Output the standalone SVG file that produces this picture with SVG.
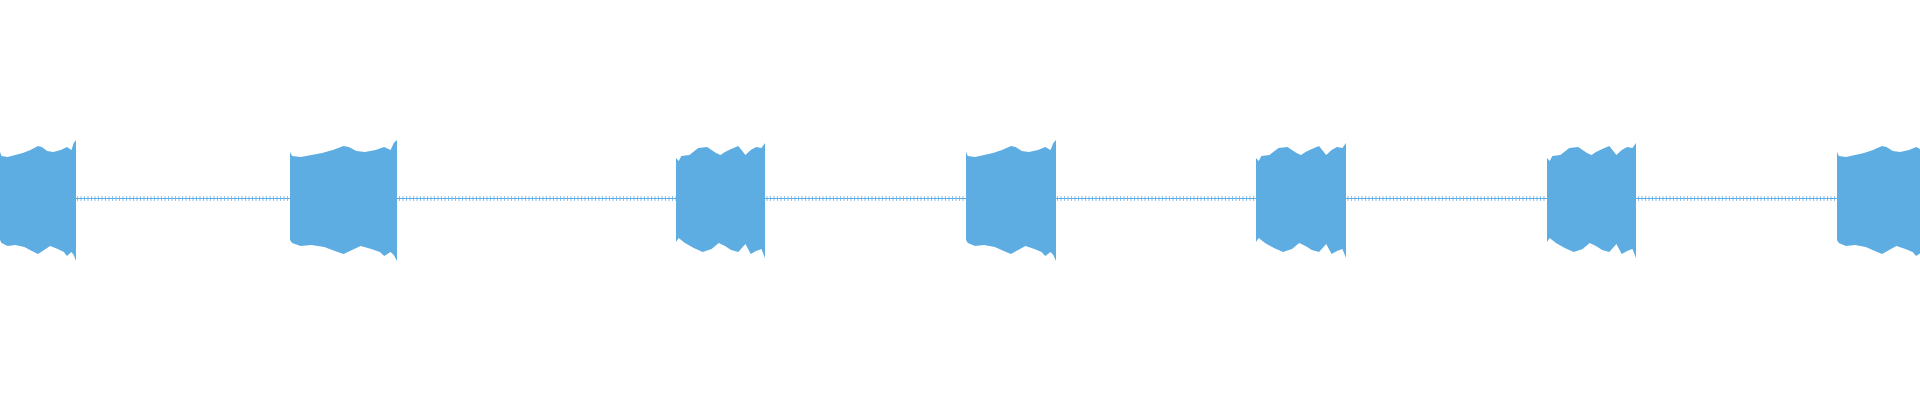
<svg xmlns="http://www.w3.org/2000/svg" width="1920" height="400" viewBox="0 0 1920 400">
<style>.w{fill:#5dade2}.n{stroke:#5dade2;fill:none}</style>
<defs>
<path id="A" class="w" d="M0,198 L0,152 L2,156 L10,157 L20,155 L30,153 L40,150 L50,146 L55,147 L62,151 L70,152 L80,150 L88,147 L94,150 L97,143 L100,140 L100,261 L97,255 L94,252 L88,256 L84,252 L76,249 L66,246 L58,250 L50,254 L42,251 L32,247 L20,245 L10,246 L2,243 L0,240 Z"/>
<path id="B" class="w" d="M0,198 L0,158 L3,161 L6,156 L15,155 L25,148 L35,147 L45,153 L50,155 L55,152 L62,149 L70,146 L78,155 L84,150 L90,147 L96,148 L100,143 L100,258 L96,249 L90,251 L84,254 L78,244 L70,252 L62,250 L55,246 L48,243 L40,249 L30,252 L20,248 L10,243 L3,238 L0,242 Z"/>
</defs>
<g id="noise">
<line class="n" x1="0" y1="198.5" x2="1920" y2="198.5" stroke-width="1.2"/>
<line class="n" x1="0" y1="198.5" x2="1920" y2="198.5" stroke-width="5" stroke-dasharray="1 2.5" opacity="0.7"/>
</g>
<g id="bursts">
<use href="#A" transform="translate(0,0) scale(0.76,1)"/>
<use href="#A" transform="translate(290,0) scale(1.07,1)"/>
<use href="#B" transform="translate(676,0) scale(0.89,1)"/>
<use href="#A" transform="translate(966,0) scale(0.90,1)"/>
<use href="#B" transform="translate(1256,0) scale(0.90,1)"/>
<use href="#B" transform="translate(1547,0) scale(0.89,1)"/>
<use href="#A" transform="translate(1837,0) scale(0.90,1)"/>
</g>
</svg>
